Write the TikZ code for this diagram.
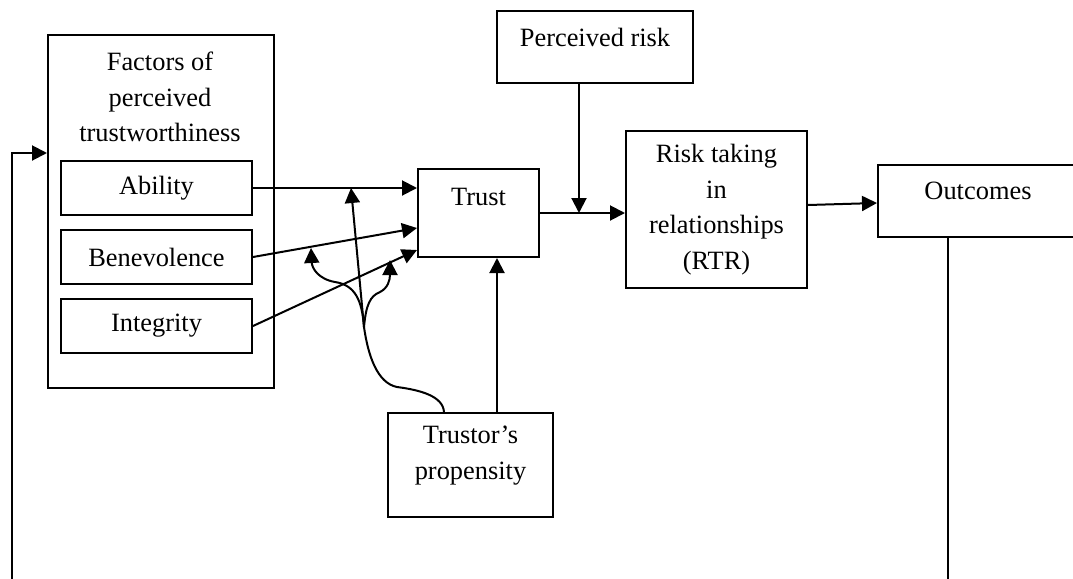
\documentclass[tikz,border=0pt]{standalone}
\usepackage{fontspec}
\setmainfont{Liberation Serif}
\usepackage{tikz}
\usetikzlibrary{arrows.meta,positioning}

\begin{document}
\begin{tikzpicture}[x=0.5pt,y=-0.5pt,>={Triangle[length=7.5pt,width=7.5pt]},line width=1pt]
    \fontsize{13.2pt}{17.8pt}\selectfont  % 字体大小
    \tikzstyle{format}=[rectangle,draw,line width=1pt,inner sep=0pt,align=center]  % 方框
    \tikzstyle{factor}=[format,minimum width=95.5pt,minimum height=27pt]  % 三个因素的小框

    \useasboundingbox (0,0) rectangle (1073,579);
    \clip (0,0) rectangle (1073,579);

    % 定义节点
    \node[format,minimum width=113pt,minimum height=176.5pt](factors) at (161,211.5){};
    \node[align=center](ftitle) at (160,97){Factors of\\perceived\\trustworthiness};
    \node[factor](ability) at (156.5,188){Ability};
    \node[factor,below of=ability,node distance=34.5pt](benevolence){Benevolence};
    \node[factor,below of=benevolence,node distance=34.5pt](integrity){Integrity};
    \node[format,minimum width=60.5pt,minimum height=44pt,text depth=16pt](trust) at (478.5,213){Trust};
    \node[format,minimum width=98pt,minimum height=36pt,text depth=10pt](prisk) at (595,47){Perceived risk};
    \node[format,minimum width=90.5pt,minimum height=78.5pt](rtr) at (716.5,209.5){Risk taking\\in\\relationships\\(RTR)};
    \node[format,minimum width=100pt,minimum height=36pt,text depth=10pt](outcomes) at (978,201){Outcomes};
    \node[format,minimum width=82.5pt,minimum height=52pt,text depth=12pt](trustor) at (470.5,465){Trustor’s\\propensity};

    % 调节线的分叉点和箭头落点
    \coordinate (split) at (364,327);
    \coordinate (modA) at (351,188);
    \coordinate (modB) at (311,248);
    \coordinate (modI) at (390,260);
    \coordinate (loop) at (12,600);

    % 开始画线
    \draw[->](ability.east)--(ability.east -| trust.west);
    \draw[->](benevolence.east)--([yshift=-7.5pt]trust.west);
    \draw[->](integrity.east)--([yshift=-18.5pt]trust.west);
    \draw[->]([xshift=13.25pt]trustor.north)--([xshift=13.25pt]trustor.north |- trust.south);
    \draw[->](trust.east)--(trust.east -| rtr.west);
    \draw[->]([xshift=-8pt]prisk.south)--([xshift=-8pt]prisk.south |- trust.east);
    \draw[->]([yshift=2.25pt]rtr.east)--([yshift=-1pt]outcomes.west);
    \draw[->](outcomes.south -| 948,0)--(loop -| 948,0)--(loop)--(loop |- 0,153)--(factors.west |- 0,153);
    % 倾向对三条线的调节
    \draw[->]([xshift=-13.25pt]trustor.north) .. controls (443,396) and (420,390) .. (397,387)
        .. controls (377,383) and (368,355) .. (split)--(modA);
    \draw[->](split) .. controls (362,300) and (355,285) .. (335,282) .. controls (318,279) and (312,268) .. (modB);
    \draw[->](split) .. controls (366,305) and (370,296) .. (380,292) .. controls (388,288) and (390,280) .. (modI);
\end{tikzpicture}
\end{document}
